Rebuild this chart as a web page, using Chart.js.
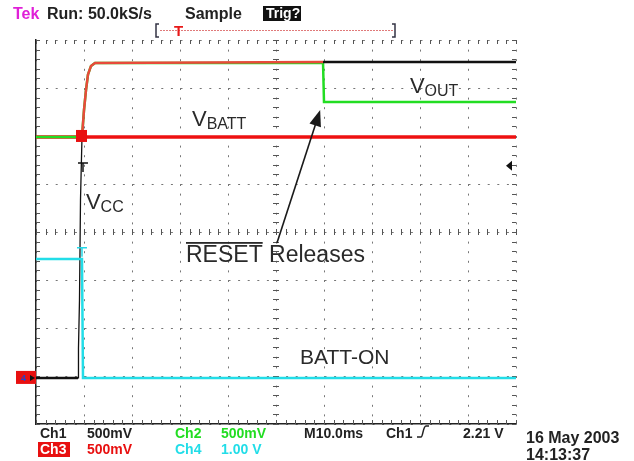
<!DOCTYPE html>
<html>
<head>
<meta charset="utf-8">
<script src="https://cdn.jsdelivr.net/npm/chart.js@4.4.1/dist/chart.umd.min.js"></script>
<style>
  body { margin: 0; background: #fff; }
  canvas { display: block; }
</style>
</head>
<body>
<canvas id="scope" width="634" height="461"></canvas>
<script>
// scope capture, 10 ms/div, volts per channel
const vccTime = [0, 8.75, 8.85, 9.06, 9.27, 9.58, 10.0, 10.42, 10.83, 11.46, 12.29, 59.8, 100];
const vccVolts = [0, 0, 0.31, 0.81, 1.85, 2.51, 2.79, 3.0, 3.16, 3.25, 3.28, 3.29, 3.29];
const voutTime = [0, 9.58, 10.0, 10.42, 10.83, 11.46, 12.29, 59.8, 60.0, 100];
const voutVolts = [2.51, 2.51, 2.79, 3.0, 3.16, 3.25, 3.28, 3.28, 2.875, 2.875];
const vbattTime = [0, 100];
const vbattVolts = [2.51, 2.51];
const battOnTime = [0, 9.58, 9.79, 100];
const battOnVolts = [2.48, 2.48, 0, 0];

const chScale = [0.5, 0.5, 0.5, 1.0]; // V/div for Ch1..Ch4
const groundDiv = -3.04;
const triggerLevel = 2.21;
const releaseMs = 59.8;

function toPoints(times, volts, vdiv) {
  return times.map(function (t, i) {
    return { x: t, y: groundDiv + volts[i] / vdiv };
  });
}

const FONT = '"Liberation Sans", Arial, sans-serif';

function label(ctx, main, sub, x, y, size, subSize, drop) {
  ctx.font = size + 'px ' + FONT;
  ctx.fillText(main, x, y);
  const w = ctx.measureText(main).width;
  if (sub) {
    ctx.font = subSize + 'px ' + FONT;
    ctx.fillText(sub, x + w, y + drop);
  }
}

function tMark(ctx, x, y, color) {
  ctx.strokeStyle = color;
  ctx.lineWidth = 1.5;
  ctx.beginPath();
  ctx.moveTo(x - 5, y); ctx.lineTo(x + 5, y);
  ctx.moveTo(x, y); ctx.lineTo(x, y + 9);
  ctx.stroke();
}

const scopeDecor = {
  id: 'scopeDecor',
  beforeDatasetsDraw(chart) {
    const ctx = chart.ctx, a = chart.chartArea;
    const xs = chart.scales.x, ys = chart.scales.y;
    ctx.save();
    ctx.strokeStyle = '#555';
    ctx.lineWidth = 1;
    ctx.beginPath();
    for (let t = 0; t <= 100; t += 2) {
      const px = Math.round(xs.getPixelForValue(t)) + 0.5;
      ctx.moveTo(px, a.top); ctx.lineTo(px, a.top + 4);
      ctx.moveTo(px, a.bottom); ctx.lineTo(px, a.bottom - 4);
      const cy = ys.getPixelForValue(0);
      ctx.moveTo(px, cy - 3); ctx.lineTo(px, cy + 3);
    }
    for (let d = -4; d <= 4.001; d += 0.2) {
      const py = Math.round(ys.getPixelForValue(d)) + 0.5;
      ctx.moveTo(a.left, py); ctx.lineTo(a.left + 4, py);
      ctx.moveTo(a.right, py); ctx.lineTo(a.right - 4, py);
      const cx = xs.getPixelForValue(50);
      ctx.moveTo(cx - 3, py); ctx.lineTo(cx + 3, py);
    }
    ctx.stroke();
    ctx.restore();
  },
  afterDatasetsDraw(chart) {
    const ctx = chart.ctx, a = chart.chartArea;
    const xs = chart.scales.x, ys = chart.scales.y;
    const X = function (t) { return xs.getPixelForValue(t); };
    const Y = function (d) { return ys.getPixelForValue(d); };
    ctx.save();

    // trigger marks on the traces
    ctx.fillStyle = '#e81010';
    ctx.fillRect(X(9.48) - 5.5, Y(groundDiv + vbattVolts[0] / chScale[2]) - 7, 11, 12);
    tMark(ctx, X(9.79), Y(1.44), '#111');
    tMark(ctx, X(9.58), Y(-0.33), '#22d8e8');

    // trigger level arrow on right edge
    const ty = Y(groundDiv + triggerLevel / chScale[0]);
    ctx.fillStyle = '#111';
    ctx.beginPath();
    ctx.moveTo(a.right - 10, ty); ctx.lineTo(a.right - 4, ty - 5); ctx.lineTo(a.right - 4, ty + 5);
    ctx.closePath(); ctx.fill();

    // ground marker on left edge
    const gy = Y(groundDiv);
    ctx.fillStyle = '#e81010';
    ctx.fillRect(a.left - 20, gy - 7, 20, 13);
    ctx.fillStyle = '#2244cc';
    ctx.font = 'bold 9px ' + FONT;
    ctx.fillText('4', a.left - 15, gy + 3);
    ctx.fillStyle = '#111';
    ctx.beginPath();
    ctx.moveTo(a.left - 1, gy); ctx.lineTo(a.left - 6, gy - 3); ctx.lineTo(a.left - 6, gy + 3);
    ctx.closePath(); ctx.fill();

    // annotations
    ctx.fillStyle = '#2a2a2a';
    ctx.textBaseline = 'alphabetic';
    label(ctx, 'V', 'BATT', X(32.5), Y(2.21), 22, 16, 3);
    label(ctx, 'V', 'OUT', X(77.9), Y(2.9), 22, 16, 3);
    label(ctx, 'V', 'CC', X(10.4), Y(0.48), 22, 16, 3);
    ctx.font = '23px ' + FONT;
    const rx = X(31.25), ry = Y(-0.625);
    ctx.fillText('RESET Releases', rx, ry);
    const rw = ctx.measureText('RESET').width;
    ctx.fillRect(rx, ry - 20, rw, 1.8);
    ctx.font = '21px ' + FONT;
    ctx.fillText('BATT-ON', X(55), Y(-2.75));

    // arrow
    const x0 = X(50.2), y0 = Y(-0.23), x1 = X(59.2), y1 = Y(2.54);
    const ang = Math.atan2(y1 - y0, x1 - x0);
    ctx.strokeStyle = '#1a1a1a';
    ctx.lineWidth = 1.6;
    ctx.beginPath();
    ctx.moveTo(x0, y0);
    ctx.lineTo(x1 - 12 * Math.cos(ang), y1 - 12 * Math.sin(ang));
    ctx.stroke();
    ctx.fillStyle = '#1a1a1a';
    ctx.beginPath();
    ctx.moveTo(x1, y1);
    ctx.lineTo(x1 - 16 * Math.cos(ang) + 6 * Math.sin(ang), y1 - 16 * Math.sin(ang) - 6 * Math.cos(ang));
    ctx.lineTo(x1 - 16 * Math.cos(ang) - 6 * Math.sin(ang), y1 - 16 * Math.sin(ang) + 6 * Math.cos(ang));
    ctx.closePath(); ctx.fill();
    ctx.restore();
  },
  afterDraw(chart) {
    const ctx = chart.ctx;
    ctx.save();
    ctx.textBaseline = 'alphabetic';

    // header
    ctx.font = 'bold 16px ' + FONT;
    ctx.fillStyle = '#e020d8';
    ctx.fillText('Tek', 13, 19);
    ctx.fillStyle = '#222';
    ctx.fillText('Run: 50.0kS/s', 47, 19);
    ctx.fillText('Sample', 185, 19);
    ctx.fillStyle = '#111';
    ctx.fillRect(263, 6, 38, 15);
    ctx.fillStyle = '#fff';
    ctx.font = 'bold 14px ' + FONT;
    ctx.fillText('Trig?', 266, 18);

    // record bar
    ctx.strokeStyle = '#e07a7a';
    ctx.lineWidth = 1;
    ctx.setLineDash([2, 1]);
    ctx.beginPath(); ctx.moveTo(160, 30.5); ctx.lineTo(393, 30.5); ctx.stroke();
    ctx.setLineDash([]);
    ctx.strokeStyle = '#334';
    ctx.lineWidth = 1.5;
    ctx.beginPath();
    ctx.moveTo(159, 24); ctx.lineTo(156, 24); ctx.lineTo(156, 37); ctx.lineTo(159, 37);
    ctx.moveTo(392, 24); ctx.lineTo(395, 24); ctx.lineTo(395, 37); ctx.lineTo(392, 37);
    ctx.stroke();
    ctx.fillStyle = '#e81818';
    ctx.font = 'bold 15px ' + FONT;
    ctx.fillText('T', 174, 36);

    // footer
    ctx.font = 'bold 14px ' + FONT;
    ctx.fillStyle = '#222';
    ctx.fillText('Ch1', 40, 438);
    ctx.fillText('500mV', 87, 438);
    ctx.fillText('M10.0ms', 304, 438);
    ctx.fillText('Ch1', 386, 438);
    ctx.fillText('2.21 V', 463, 438);
    ctx.font = 'bold 16px ' + FONT;
    ctx.fillText('16 May 2003', 526, 443);
    ctx.fillText('14:13:37', 526, 460);
    ctx.lineWidth = 1.5;
    ctx.strokeStyle = '#222';
    ctx.beginPath();
    ctx.moveTo(417, 437); ctx.lineTo(421, 437);
    ctx.bezierCurveTo(423, 437, 423, 426, 426, 426);
    ctx.lineTo(429, 426);
    ctx.stroke();
    ctx.font = 'bold 14px ' + FONT;
    ctx.fillStyle = '#22dd22';
    ctx.fillText('Ch2', 175, 438);
    ctx.fillText('500mV', 221, 438);
    ctx.fillStyle = '#e81010';
    ctx.fillRect(38, 442, 32, 15);
    ctx.fillText('500mV', 87, 454);
    ctx.fillStyle = '#fff';
    ctx.fillText('Ch3', 40, 454);
    ctx.fillStyle = '#22dde8';
    ctx.fillText('Ch4', 175, 454);
    ctx.fillText('1.00 V', 221, 454);
    ctx.restore();
  }
};

const ctx = document.getElementById('scope').getContext('2d');
new Chart(ctx, {
  type: 'line',
  data: {
    datasets: [
      {
        label: 'BATT-ON (Ch4)',
        data: toPoints(battOnTime, battOnVolts, chScale[3]),
        borderColor: '#22dde8', borderWidth: 2.5, order: 0
      },
      {
        label: 'VCC (Ch1)',
        data: toPoints(vccTime, vccVolts, chScale[0]),
        borderColor: '#111', borderWidth: 2.5, order: 1,
        segment: {
          borderColor: function (c) {
            return (c.p0.parsed.x >= 9.58 && c.p0.parsed.x < releaseMs) ? '#e84a3a' : '#111';
          },
          borderWidth: function (c) {
            return c.p0.parsed.x < 9.58 && c.p1.parsed.x > 8.8 ? 1.3 : 2.5;
          }
        }
      },
      {
        label: 'VOUT (Ch2)',
        data: toPoints(voutTime, voutVolts, chScale[1]),
        borderColor: '#22dd22', borderWidth: 2.5, order: 2
      },
      {
        label: 'VBATT (Ch3)',
        data: toPoints(vbattTime, vbattVolts, chScale[2]),
        borderColor: '#ee1111', borderWidth: 3.5, order: 3
      }
    ]
  },
  options: {
    responsive: false,
    animation: false,
    layout: { padding: { left: 36, top: 40, right: 118, bottom: 37 } },
    elements: { point: { radius: 0 }, line: { tension: 0 } },
    plugins: { legend: { display: false }, tooltip: { enabled: false } },
    scales: {
      x: {
        type: 'linear', min: 0, max: 100,
        ticks: { display: false, stepSize: 10 },
        grid: { color: '#777', lineWidth: 1, drawTicks: false },
        border: { display: true, color: '#222', width: 1.5, dash: [2, 7.6] }
      },
      y: {
        type: 'linear', min: -4, max: 4,
        ticks: { display: false, stepSize: 1 },
        grid: { color: '#777', lineWidth: 1, drawTicks: false },
        border: { display: true, color: '#222', width: 1.5, dash: [2, 7.6] }
      }
    }
  },
  plugins: [scopeDecor]
});
</script>
</body>
</html>
